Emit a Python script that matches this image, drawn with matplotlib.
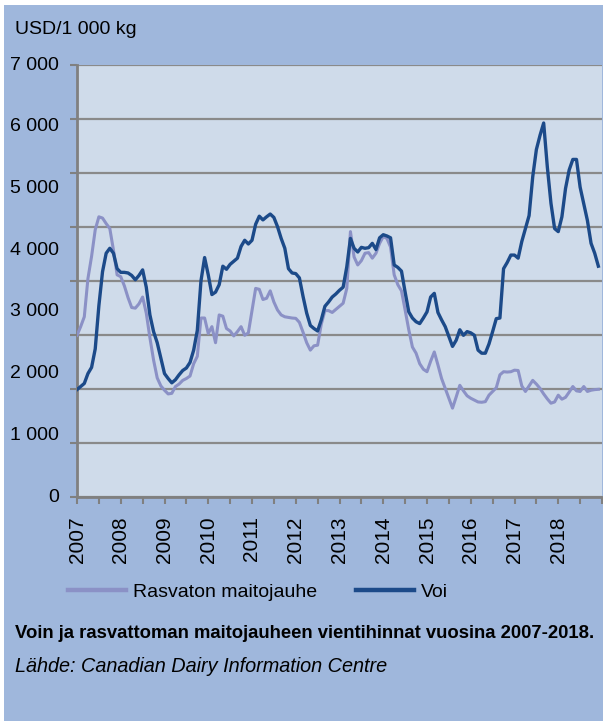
import numpy as np
import matplotlib
matplotlib.use('Agg')
import matplotlib.pyplot as plt
from matplotlib.patches import Rectangle
import matplotlib.transforms as mtransforms

# monthly export prices, USD / 1000 kg, Jan 2007 .. Dec 2018
voi = [1740, 1790, 1840, 2000, 2100, 2400, 3100, 3650, 3950, 4030, 3950, 3700,
       3640, 3640, 3630, 3590, 3520, 3590, 3680, 3400, 2950, 2680, 2500, 2250,
       2000, 1920, 1850, 1900, 1980, 2050, 2090, 2180, 2380, 2700, 3500, 3880,
       3600, 3280, 3320, 3440, 3740, 3690, 3770, 3820, 3870, 4060, 4160, 4100,
       4160, 4420, 4550, 4490, 4540, 4585, 4530, 4380, 4190, 4030, 3700, 3630,
       3620, 3550, 3250, 2980, 2780, 2730, 2690, 2870, 3090, 3160, 3240, 3290,
       3350, 3400, 3730, 4190, 4030, 3970, 4045, 4030, 4040, 4110, 4010, 4200,
       4250, 4230, 4200, 3760, 3720, 3660, 3320, 3000, 2900, 2840, 2810, 2900,
       3000, 3240, 3300, 2990, 2870, 2760, 2600, 2440, 2540, 2710, 2620, 2680,
       2660, 2620, 2380, 2330, 2330, 2480, 2680, 2890, 2900, 3700, 3800, 3920,
       3920, 3870, 4140, 4350, 4560, 5190, 5630, 5860, 6060, 5350, 4760, 4350,
       4300, 4540, 5000, 5300, 5470, 5470, 5020, 4750, 4480, 4110, 3950, 3740]

rasvaton = [2620, 2760, 2920, 3540, 3900, 4330, 4540, 4520, 4430, 4350, 4000, 3600,
            3570, 3420, 3230, 3070, 3060, 3130, 3240, 2980, 2580, 2220, 1930, 1800,
            1730, 1670, 1680, 1790, 1830, 1890, 1920, 1960, 2160, 2280, 2900, 2900,
            2650, 2760, 2500, 2950, 2930, 2730, 2690, 2610, 2680, 2760, 2620, 2660,
            3020, 3380, 3365, 3200, 3220, 3340, 3160, 3030, 2950, 2920, 2910, 2900,
            2895, 2830, 2670, 2500, 2380, 2450, 2460, 2800, 3020, 3020, 2990, 3040,
            3090, 3140, 3380, 4300, 3890, 3760, 3830, 3950, 3960, 3870, 3950, 4110,
            4220, 4190, 4050, 3600, 3440, 3340, 3030, 2710, 2430, 2330, 2160, 2070,
            2030, 2200, 2350, 2140, 1920, 1760, 1600, 1440, 1620, 1810, 1720, 1640,
            1600, 1570, 1540, 1535, 1545, 1650, 1710, 1770, 1980, 2030, 2025, 2030,
            2055, 2050, 1800, 1710, 1800, 1890, 1830, 1760, 1670, 1590, 1520, 1540,
            1650, 1585, 1615, 1700, 1790, 1720, 1710, 1790, 1710, 1730, 1740, 1745]

years = [str(y) for y in range(2007, 2019)]
y_labels = [0, 1000, 2000, 3000, 4000, 5000, 6000, 7000]

W, H = 603, 721
bg = '#9fb7dc'
plt.rcParams['font.family'] = ['Liberation Sans', 'DejaVu Sans']

fig = plt.figure(figsize=(W / 100, H / 100), dpi=100)
fig.patch.set_facecolor('white')
fig.patches.append(Rectangle((4 / W, 0), 1, 1 - 5 / H, transform=fig.transFigure,
                             facecolor=bg, edgecolor='none', zorder=-10))

ax = fig.add_axes([77 / W, 1 - 497 / H, (602 - 77) / W, (497 - 65) / H])
ax.set_facecolor('#cfdbea')

t = 2007 + np.arange(len(voi)) / 12
ax.plot(t, rasvaton, color='#8b91c6', lw=2.2, label='Rasvaton maitojauhe', zorder=3)
ax.plot(t, voi, color='#1c4a89', lw=2.4, label='Voi', zorder=4)

ax.set_xlim(2007, 2019)
ax.set_ylim(0, 7000)

# gridlines / tick marks every 875, value labels every 1000
ax.set_yticks(np.arange(0, 7001, 875))
ax.set_yticklabels([])
ax.yaxis.grid(True, color='#8a8a8a', lw=1.6)
ax.set_axisbelow(True)
trans = mtransforms.blended_transform_factory(ax.transAxes, ax.transData)
for v in y_labels:
    ax.text(-18 / 525, v, f'{v:,}'.replace(',', ' '), transform=trans,
            ha='right', va='center', fontsize=14, color='black')

ticks = np.arange(2007, 2019.01, 0.5)
ax.set_xticks(ticks)
ax.set_xticklabels([years[int(k - 2007)] if k % 1 == 0 and k < 2019 else '' for k in ticks],
                   rotation=90, fontsize=15)
ax.tick_params(axis='both', color='#808080', length=5, width=1.5)
ax.tick_params(axis='x', pad=9)

for s in ['top', 'right']:
    ax.spines[s].set_visible(False)
for s in ['left', 'bottom']:
    ax.spines[s].set_color('#808080')
    ax.spines[s].set_linewidth(2)

fig.text(15 / W, 1 - 30 / H, 'USD/1 000 kg', fontsize=14, va='center', ha='left')

fig.legend(loc='center left', bbox_to_anchor=(68 / W, 1 - 592 / H), ncol=2,
           frameon=False, fontsize=14, borderpad=0, borderaxespad=0,
           handlelength=3.0, handletextpad=0.35, columnspacing=2.0)
for ln in fig.legends[0].get_lines():
    ln.set_linewidth(3.2)

fig.text(15 / W, 1 - 633 / H, 'Voin ja rasvattoman maitojauheen vientihinnat vuosina 2007-2018.',
         fontsize=13.35, fontweight='bold', va='center', ha='left')
fig.text(15 / W, 1 - 666 / H, 'Lähde: Canadian Dairy Information Centre',
         fontsize=14.3, style='italic', va='center', ha='left')

fig.savefig('out.png', dpi=100, facecolor=fig.get_facecolor())
